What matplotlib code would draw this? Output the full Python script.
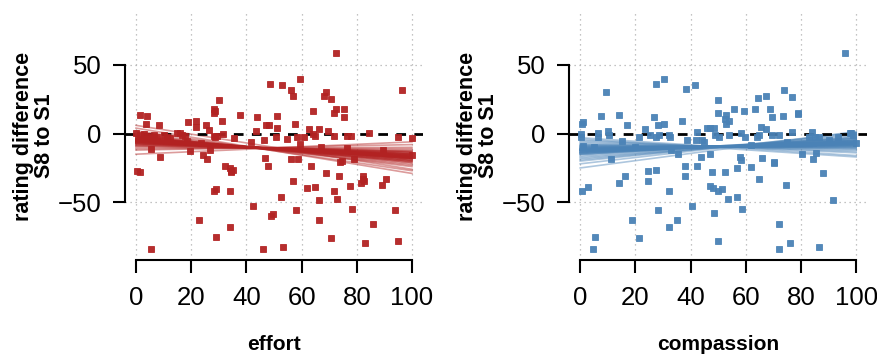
import matplotlib.pyplot as plt
import numpy as np

# effort panel: observed points
effort_x = [72.3, 48.6, 52.8, 59.4, 56, 57, 96.5, 68.2, 68.8, 70.6, 30.2, 28.4, 28.7, 28.2, 31,
            37.7, 1.3, 4.1, 3.6, 8.4, 18.9, 21.6, 21.6, 25.3, 26.5, 43.9, 51.2, 64.1, 72.6, 71.9,
            75.4, 75.4, 47.2, 48.1, 57.6, 62.7, 66.4, 69.5, 51.2, 43.5, 84.5, 95, 100, 76.3, 78,
            71.6, 64, 65, 61, 58.3,
            0, 1.6, 3, 4, 5.2, 6.4, 7.6, 10, 11.2, 12.4, 14.8, 16, 16.6, 17.8,
            5.5, 8.8, 0.5, 1.3, 19.6, 24.2, 25.9, 26.7, 28.7, 29.5, 31.5, 32.4, 34, 34.3, 34.5,
            35, 34.1, 28.4, 29, 23, 29, 33.9, 5.3, 42.5, 46.1, 53.4, 49.5, 49, 52.5, 56.8, 58,
            56, 58.8, 47.7, 46.6, 62.1, 63.5, 64.8, 66.3, 66.3, 69, 70.8, 71.8, 72.7, 73.5, 73.9,
            74.5, 77.7, 78.4, 79, 81.7, 82.2, 82.8, 82.4, 83.1, 85.8, 89.3, 90.7, 94, 95, 89.5, 100,
            18.6, 23.5, 28.3, 35.5, 41.6, 46.4, 50.6, 54.8, 59.6, 66.9, 76.5]
effort_y = [58.5, 36, 35.4, 39.5, 32, 27, 32, 27.4, 30, 25.5, 24.5, 18, 16.7, 15, 9.5,
            13.6, 13.3, 12.9, 7, 6, 8.2, 9, 5, 6.3, 2.9, 12.4, 12.9, 16.3, 18, 14.8,
            17.7, 11.9, 6, 6.5, 7, 3.6, 3.6, 2.2, 3.9, 2.2, 0.2, -2.2, -3.2, -2, -2,
            -1.7, -0.5, -2, -2.7, -2.7,
            0.2, -1, -0.2, -1.7, -2.2, -1, -2.7, -1, -2.2, -2.9, 0.7, 0.2, -1, -1.7,
            -11, -16.7, -27, -28, -12.6, -15.3, -18.2, -12, -2.7, -1.7, -0.5, -23.5, -25, -27, -28,
            -26.5, -41.7, -42, -40, -62.6, -75.5, -68.2, -84.2, -52.4, -83.7, -82.3, -58.5, -59.7, -45.9, -34.5, -55.3,
            -18.2, -18.7, -23.8, -17.5, -39.6, -23.3, -38.6, -48.3, -63.1, -28.9, -75.7, -41.5, -47.8, -30.8, -21,
            -20, -38.1, -55.1, -18.7, -36, -30.5, -34.5, -33, -79.4, -66, -37.1, -33, -55.8, -78, -12, -15.8,
            -5.5, -7, -2, -3.4, -5.8, -4.6, -2.7, -4.1, -7.5, -9.5, -10.7]

# compassion panel: observed points
compassion_x = [95.8, 27.6, 30.4, 38.4, 41.6, 9.3, 73.9, 76.7, 64.5, 67.5, 50, 55.7, 63.3, 59.3, 68.9,
                69.5, 73.6, 79, 78.8, 50, 52.7, 52.4, 53.9, 53, 7.6, 14.1, 26.8, 0.6, 1.1, 16.9,
                28.1, 30.2, 37, 23.5, 10, 42.5, 46.1, 46.9, 48.6, 65.4, 67.5, 76.7, 84, 98.2,
                0.2, 0.2, 6.3, 6.5, 10.5, 21.3, 25.2, 27.3, 28.6, 32.2, 32.4, 38.8, 41.8, 44.2, 49,
                50.2, 53.9, 58.1, 59.9, 64.1, 64.9, 69.5, 71.9, 82.8, 85.2, 93.6, 97.8, 99, 100,
                1.1, 11.2, 35.5, 43.9, 47.2, 57.8, 58.4, 65.9, 70.2, 80.4, 85.5, 84.2, 86.6, 0.7, 2.9,
                5.3, 4.7, 14.1, 16.1, 15.2, 18.9, 21.4, 24.6, 24.6, 27.6, 28.1, 32.2, 32.2, 35.1, 37.9,
                38, 40.5, 42.4, 47.8, 47.2, 48, 48.4, 49.8, 51.4, 49.8, 52.4, 53.4, 56.7, 57, 58.7,
                61.9, 64.7, 70.4, 72.2, 72.2, 74.6, 76.1, 86.6, 88, 91.6,
                5, 20, 33, 45, 62, 75, 90]
compassion_y = [58.5, 36.2, 39.6, 32.3, 35.4, 30.1, 31.8, 26.9, 25.7, 27.2, 24.5, 17.7, 17.7, 16.5, 17.7,
                11.9, 12.9, 15.3, 14.3, 14.8, 13.6, 10.4, 9.5, 7, 12.9, 13.3, 12.4, 7, 8.5, 6.3,
                6.3, 7, 9, 3.6, 2.2, 1.5, 3.9, 3.9, 3.9, 5, 3.6, 1.5, 1.5, 0.7,
                -0.2, -2.2, 0.2, -2.7, -1, -2.7, -1, -2.2, -1, -1, -2.2, -4.6, -4.6, -4.6, -1,
                -2.2, -1, 0.2, -2.2, -2.2, -1, -1, -1, -2.2, -2.2, -2.2, 0.2, -1, -6.6,
                -8.7, -18.2, -14.8, -16.7, -14.8, -16.7, -19.2, -17.5, -21.1, -14.8, -14.1, -18.7, -2.7, -41.7, -38.6,
                -75.5, -84.2, -36.2, -30.8, -5.6, -63.1, -76, -27.4, -34.5, -26.5, -55.8, -41.7, -68.2, -62.6, -30.8,
                -23.8, -52.4, -23.3, -28.2, -38.1, -39.3, -57.5, -41.5, -40.5, -77.9, -28.2, -47.8, -45.9, -25.2, -55.1,
                -24, -33, -21, -66, -84.2, -37.1, -79.4, -82.3, -28.9, -48.3,
                -10, -9.5, -12, -6, -8, -6, -5]

# posterior regression lines: value at x=0 and at x=100
effort_y0 = [-5, -3, -7, -4, -6, -2, -8, -5, -1, -9, -4, -6, -3, -7, 2, -10, -5, -4, -6, -12,
             -3, -5, -8, 4, -2, -6, -4, -7, -5, -15, -3, -9, 0, -6, -5, -4, -11, -7, 6, -2,
             -5, -6, -4, -7, -3, -5, -8, -6, -4, -5]
effort_y100 = [-17, -19, -15, -18, -16, -21, -13, -17, -23, -12, -19, -16, -20, -14, -27, -11, -17, -18, -15, -8,
               -20, -17, -14, -29, -21, -16, -18, -15, -17, -6, -20, -13, -24, -16, -17, -18, -10, -15, -26, -22,
               -16, -15, -18, -14, -19, -17, -13, -16, -18, -17]
compassion_y0 = [-12, -10, -14, -11, -13, -8, -16, -12, -6, -18, -11, -13, -9, -15, -3, -20, -12, -10, -14, -22,
                 -9, -12, -15, -5, -8, -13, -11, -14, -12, -25, -10, -17, -7, -13, -12, -11, -19, -14, -4, -9,
                 -12, -13, -11, -14, -10, -12, -15, -13, -11, -12]
compassion_y100 = [-7, -9, -5, -8, -6, -11, -3, -7, -13, -2, -8, -6, -10, -4, -16, 0, -7, -9, -5, 1,
                   -10, -7, -4, -14, -11, -6, -8, -5, -7, 1.5, -9, -3, -12, -6, -7, -8, -1, -5, -17, -10,
                   -6, -5, -8, -4, -9, -7, -3, -6, -8, -7]

plt.rcParams['font.family'] = ['Liberation Sans', 'DejaVu Sans']

fig = plt.figure(figsize=(8.77, 3.55), dpi=100)
ax1 = fig.add_axes([0.1425, 0.2676, 0.3398, 0.6986])
ax2 = fig.add_axes([0.649, 0.2676, 0.3398, 0.6986])

panels = [
    (ax1, effort_x, effort_y, effort_y0, effort_y100, '#b22222', 'effort'),
    (ax2, compassion_x, compassion_y, compassion_y0, compassion_y100, '#4a82b6', 'compassion'),
]

for ax, xs, ys, y0s, y100s, col, name in panels:
    # dotted grid
    for gx in [0, 20, 40, 60, 80, 100]:
        ax.axvline(gx, color='#b0b0b0', ls=(0, (1, 3)), lw=0.9, zorder=0)
    for gy in [-50, 50]:
        ax.axhline(gy, color='#b0b0b0', ls=(0, (1, 3)), lw=0.9, zorder=0)

    # posterior lines
    for a, b in zip(y0s, y100s):
        ax.plot([0, 100], [a, b], color=col, alpha=0.45, lw=1.2, zorder=2)

    ax.axhline(0, color='black', ls=(0, (3.5, 3)), lw=2.0, zorder=3)

    ax.plot(xs, ys, 's', color=col, markersize=4.6, markeredgewidth=0.6,
            markeredgecolor=col, alpha=0.95, zorder=4)

    ax.set_xlim(-4, 104)
    ax.set_ylim(-92, 88.5)
    ax.set_xticks([0, 20, 40, 60, 80, 100])
    ax.set_yticks([-50, 0, 50])
    ax.set_yticklabels(['\u221250', '0', '50'])

    for s in ['top', 'right']:
        ax.spines[s].set_visible(False)
    ax.spines['left'].set_bounds(-50, 50)
    ax.spines['bottom'].set_bounds(0, 100)
    ax.spines['left'].set_linewidth(1.5)
    ax.spines['bottom'].set_linewidth(1.5)
    ax.tick_params(length=9, width=1.5, labelsize=18.5)
    ax.tick_params(axis='x', pad=10)
    ax.tick_params(axis='y', pad=8)

    ax.set_xlabel(name, fontsize=15, fontweight='bold', labelpad=18)
    ax.set_ylabel('rating difference\nS8 to S1', fontsize=15.5, fontweight='bold',
                  labelpad=2, linespacing=1.0)

fig.savefig('out.png', dpi=100)
